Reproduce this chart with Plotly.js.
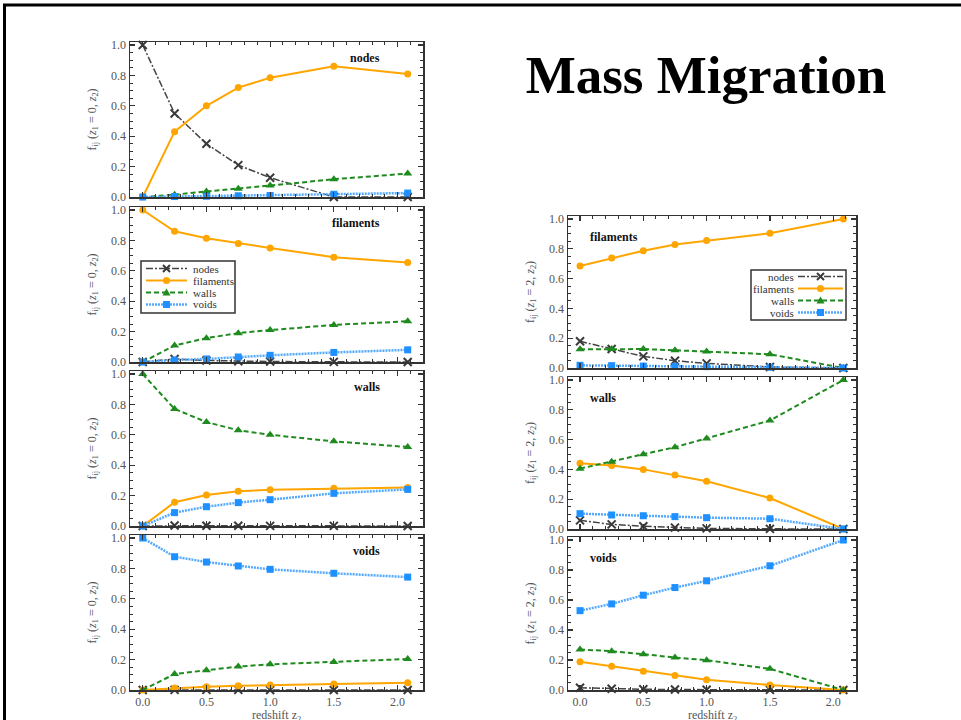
<!DOCTYPE html>
<html><head><meta charset="utf-8">
<script src="https://cdn.plot.ly/plotly-3.0.1.min.js"></script>
<style>html,body{margin:0;padding:0;background:#fff;} #chart{width:961px;height:720px;}</style>
</head><body><div id="chart"></div><script>
// ---------------- DATA ----------------
const redshift = [0, 0.25, 0.5, 0.75, 1.0, 1.5, 2.08];
const seriesNames = ['nodes', 'filaments', 'walls', 'voids'];
const panelLabels = ['nodes', 'filaments', 'walls', 'voids'];

// z1 = 0, initial environment: nodes
const z0NodesNodes     = [1.0, 0.55, 0.35, 0.21, 0.127, 0.0, 0.0];
const z0NodesFilaments = [0.0, 0.43, 0.60, 0.72, 0.785, 0.86, 0.81];
const z0NodesWalls     = [0.0, 0.015, 0.037, 0.055, 0.075, 0.117, 0.154];
const z0NodesVoids     = [0.0, 0.003, 0.005, 0.008, 0.01, 0.018, 0.026];
// z1 = 0, filaments
const z0FilNodes     = [0.0, 0.02, 0.01, 0.005, 0.003, 0.001, 0.0];
const z0FilFilaments = [1.0, 0.86, 0.815, 0.78, 0.75, 0.69, 0.654];
const z0FilWalls     = [0.0, 0.109, 0.157, 0.19, 0.21, 0.244, 0.268];
const z0FilVoids     = [0.0, 0.013, 0.02, 0.033, 0.044, 0.063, 0.08];
// z1 = 0, walls
const z0WallNodes     = [0.0, 0.003, 0.002, 0.002, 0.001, 0.001, 0.0];
const z0WallFilaments = [0.0, 0.156, 0.204, 0.228, 0.239, 0.248, 0.254];
const z0WallWalls     = [1.0, 0.77, 0.684, 0.63, 0.60, 0.557, 0.52];
const z0WallVoids     = [0.0, 0.088, 0.127, 0.154, 0.173, 0.215, 0.241];
// z1 = 0, voids
const z0VoidNodes     = [0.0, 0.001, 0.001, 0.001, 0.0, 0.0, 0.0];
const z0VoidFilaments = [0.0, 0.013, 0.022, 0.028, 0.033, 0.04, 0.048];
const z0VoidWalls     = [0.0, 0.105, 0.13, 0.154, 0.169, 0.184, 0.204];
const z0VoidVoids     = [1.0, 0.877, 0.842, 0.816, 0.794, 0.768, 0.743];

// z1 = 2, filaments
const z2FilNodes     = [0.179, 0.128, 0.078, 0.049, 0.031, 0.007, 0.0];
const z2FilFilaments = [0.685, 0.738, 0.787, 0.828, 0.855, 0.904, 1.0];
const z2FilWalls     = [0.125, 0.127, 0.127, 0.119, 0.11, 0.092, 0.0];
const z2FilVoids     = [0.018, 0.016, 0.013, 0.011, 0.009, 0.005, 0.0];
// z1 = 2, walls
const z2WallNodes     = [0.058, 0.031, 0.018, 0.009, 0.004, 0.001, 0.0];
const z2WallFilaments = [0.442, 0.426, 0.40, 0.362, 0.321, 0.208, 0.0];
const z2WallWalls     = [0.405, 0.451, 0.502, 0.549, 0.607, 0.728, 1.0];
const z2WallVoids     = [0.103, 0.094, 0.089, 0.083, 0.076, 0.069, 0.0];
// z1 = 2, voids
const z2VoidNodes     = [0.015, 0.008, 0.005, 0.003, 0.002, 0.001, 0.0];
const z2VoidFilaments = [0.188, 0.158, 0.125, 0.096, 0.069, 0.033, 0.0];
const z2VoidWalls     = [0.27, 0.259, 0.239, 0.216, 0.199, 0.141, 0.0];
const z2VoidVoids     = [0.529, 0.574, 0.632, 0.683, 0.728, 0.828, 1.0];

// ---------------- STYLE / LAYOUT ----------------
const W = 961, H = 720;
const FONT = 'Liberation Serif, Times New Roman, DejaVu Serif, serif';
const px = v => v / W;
const py = v => 1 - v / H;

const styles = {
  nodes:     {color: '#3a3a3a', lcolor: '#444', dash: '7px,2px,2px,2px', width: 1.5, symbol: 'x-thin', size: 8, mline: 2},
  filaments: {color: '#FFA500', lcolor: '#FFA500', dash: 'solid', width: 2, symbol: 'circle', size: 7, mline: 0},
  walls:     {color: '#1F8B1F', lcolor: '#1F8B1F', dash: '5px,3px', width: 2, symbol: 'triangle-up', size: 8, mline: 0},
  voids:     {color: '#1E90FF', lcolor: '#55AAFF', dash: '2px,1px', width: 2.5, symbol: 'square', size: 7, mline: 0}
};

const panels = [
  {series: [z0NodesNodes, z0NodesFilaments, z0NodesWalls, z0NodesVoids], label: 0, side: 'L', top: 42,  bottom: 197},
  {series: [z0FilNodes, z0FilFilaments, z0FilWalls, z0FilVoids],         label: 1, side: 'L', top: 207, bottom: 362},
  {series: [z0WallNodes, z0WallFilaments, z0WallWalls, z0WallVoids],     label: 2, side: 'L', top: 371, bottom: 526},
  {series: [z0VoidNodes, z0VoidFilaments, z0VoidWalls, z0VoidVoids],     label: 3, side: 'L', top: 535, bottom: 690, bottomAxis: true},
  {series: [z2FilNodes, z2FilFilaments, z2FilWalls, z2FilVoids],         label: 1, side: 'R', top: 216, bottom: 368},
  {series: [z2WallNodes, z2WallFilaments, z2WallWalls, z2WallVoids],     label: 2, side: 'R', top: 377, bottom: 529},
  {series: [z2VoidNodes, z2VoidFilaments, z2VoidWalls, z2VoidVoids],     label: 3, side: 'R', top: 537, bottom: 690, bottomAxis: true}
];

const sides = {
  L: {x0: 130, x1: 423, range: [-0.1, 2.2], ytitle: 'f<sub>ij</sub> (<i>z</i><sub>1</sub> = 0, <i>z</i><sub>2</sub>)', labelX: 382, labelAnchor: 'right', labelDy: 16},
  R: {x0: 568, x1: 856, range: [-0.095, 2.18], ytitle: 'f<sub>ij</sub> (<i>z</i><sub>1</sub> = 2, <i>z</i><sub>2</sub>)', labelX: 588, labelAnchor: 'left', labelDy: 21}
};
const xTitleText = 'redshift z<sub>2</sub>';
const xTitleY = 716;

// legend boxes (pixel geometry): text on the right (left legend) or on the left (right legend)
const legendBoxes = [
  {box: [141, 261, 235, 313], rows: [268.5, 280.5, 292.5, 304.5], line: [146, 187], textX: 192, textAnchor: 'left'},
  {box: [751, 270, 846, 320], rows: [276.5, 288.5, 300.5, 312.5], line: [798, 843], textX: 795, textAnchor: 'right'}
];

const axisCommon = {
  showline: true, mirror: 'allticks', linecolor: '#333', linewidth: 1.5,
  ticks: 'inside', ticklen: 5, tickwidth: 1.2, tickcolor: '#333',
  showgrid: false, zeroline: false,
  tickfont: {family: FONT, size: 12, color: '#555'}
};

const traces = [];
const layout = {
  width: W, height: H,
  margin: {l: 0, r: 0, t: 0, b: 0},
  paper_bgcolor: '#fff', plot_bgcolor: '#fff',
  font: {family: FONT, color: '#333'},
  showlegend: false,
  title: {text: '<b>Mass Migration</b>', x: px(706), xanchor: 'center', xref: 'paper',
          y: py(74), yanchor: 'middle', yref: 'container',
          font: {family: FONT, size: 53, color: '#000'}},
  annotations: [],
  shapes: [
    {type: 'line', xref: 'paper', yref: 'paper', x0: px(3), x1: 1, y0: py(5), y1: py(5), line: {color: '#000', width: 3}},
    {type: 'line', xref: 'paper', yref: 'paper', x0: px(4.5), x1: px(4.5), y0: py(4), y1: 0, line: {color: '#000', width: 3}}
  ]
};

panels.forEach((p, i) => {
  const n = i + 1;
  const xa = n === 1 ? 'x' : 'x' + n;
  const ya = n === 1 ? 'y' : 'y' + n;
  const s = sides[p.side];
  layout['xaxis' + (n === 1 ? '' : n)] = Object.assign({}, axisCommon, {
    domain: [px(s.x0), px(s.x1)], range: s.range, anchor: ya,
    dtick: 0.5, tick0: 0, tickformat: '.1f', showticklabels: !!p.bottomAxis,
    minor: {ticks: 'inside', ticklen: 3, dtick: 0.1, tick0: 0, tickcolor: '#333', tickwidth: 1}
  });
  layout['yaxis' + (n === 1 ? '' : n)] = Object.assign({}, axisCommon, {
    domain: [py(p.bottom), py(p.top)], range: [0, 1.02], anchor: xa,
    dtick: 0.2, tick0: 0, tickformat: '.1f',
    minor: {ticks: 'inside', ticklen: 3, dtick: 0.05, tick0: 0, tickcolor: '#333', tickwidth: 1},
    title: {text: s.ytitle, font: {family: FONT, size: 12, color: '#555'}}
  });
  if (p.bottomAxis) {
    layout.annotations.push({
      text: xTitleText, xref: 'paper', yref: 'paper',
      x: px((s.x0 + s.x1) / 2), xanchor: 'center', y: py(xTitleY), yanchor: 'middle', borderpad: 0,
      showarrow: false, font: {family: FONT, size: 12, color: '#555'}
    });
  }
  p.series.forEach((vals, k) => {
    const name = seriesNames[k];
    const st = styles[name];
    traces.push({
      type: 'scatter', mode: 'lines+markers', x: redshift, y: vals, name: name,
      xaxis: xa, yaxis: ya, cliponaxis: false,
      line: {color: st.lcolor, dash: st.dash, width: st.width},
      marker: {symbol: st.symbol, size: st.size, color: st.color,
               line: {color: st.color, width: st.mline}}
    });
  });
  layout.annotations.push({
    text: '<b>' + panelLabels[p.label] + '</b>', xref: 'paper', yref: 'paper',
    x: px(s.labelX), xanchor: s.labelAnchor, y: py(p.top + s.labelDy), yanchor: 'middle',
    showarrow: false, font: {family: FONT, size: 12, color: '#111'}
  });
});

// ---- legend keys drawn as layout decoration ----
function markerShape(name, cx, cy) {
  const st = styles[name];
  const r = 3.5;
  if (name === 'filaments') {
    return {type: 'circle', xref: 'paper', yref: 'paper', layer: 'above',
      x0: px(cx - r), x1: px(cx + r), y0: py(cy + r), y1: py(cy - r),
      fillcolor: st.color, line: {width: 0}};
  }
  if (name === 'voids') {
    return {type: 'rect', xref: 'paper', yref: 'paper', layer: 'above',
      x0: px(cx - r), x1: px(cx + r), y0: py(cy + r), y1: py(cy - r),
      fillcolor: st.color, line: {width: 0}};
  }
  if (name === 'walls') {
    const path = 'M' + px(cx - 4) + ',' + py(cy + 3) + ' L' + px(cx + 4) + ',' + py(cy + 3) +
                 ' L' + px(cx) + ',' + py(cy - 4) + ' Z';
    return {type: 'path', xref: 'paper', yref: 'paper', layer: 'above', path: path,
      fillcolor: st.color, line: {width: 0}};
  }
  const path = 'M' + px(cx - 3.5) + ',' + py(cy - 3.5) + ' L' + px(cx + 3.5) + ',' + py(cy + 3.5) +
               ' M' + px(cx - 3.5) + ',' + py(cy + 3.5) + ' L' + px(cx + 3.5) + ',' + py(cy - 3.5);
  return {type: 'path', xref: 'paper', yref: 'paper', layer: 'above', path: path,
    line: {color: st.color, width: 2}};
}

legendBoxes.forEach(lb => {
  layout.shapes.push({type: 'rect', xref: 'paper', yref: 'paper', layer: 'above',
    x0: px(lb.box[0]), x1: px(lb.box[2]), y0: py(lb.box[3]), y1: py(lb.box[1]),
    fillcolor: '#fff', line: {color: '#333', width: 1.5}});
  seriesNames.forEach((name, k) => {
    const st = styles[name];
    const cy = lb.rows[k];
    layout.shapes.push({type: 'line', xref: 'paper', yref: 'paper', layer: 'above',
      x0: px(lb.line[0]), x1: px(lb.line[1]), y0: py(cy), y1: py(cy),
      line: {color: st.lcolor, width: st.width, dash: st.dash}});
    layout.shapes.push(markerShape(name, (lb.line[0] + lb.line[1]) / 2, cy));
    layout.annotations.push({text: name, xref: 'paper', yref: 'paper',
      x: px(lb.textX), xanchor: lb.textAnchor, y: py(cy), yanchor: 'middle', borderpad: 0,
      showarrow: false, font: {family: FONT, size: 11, color: '#333'}});
  });
});

Plotly.newPlot('chart', traces, layout, {displayModeBar: false, staticPlot: true});
</script></body></html>
